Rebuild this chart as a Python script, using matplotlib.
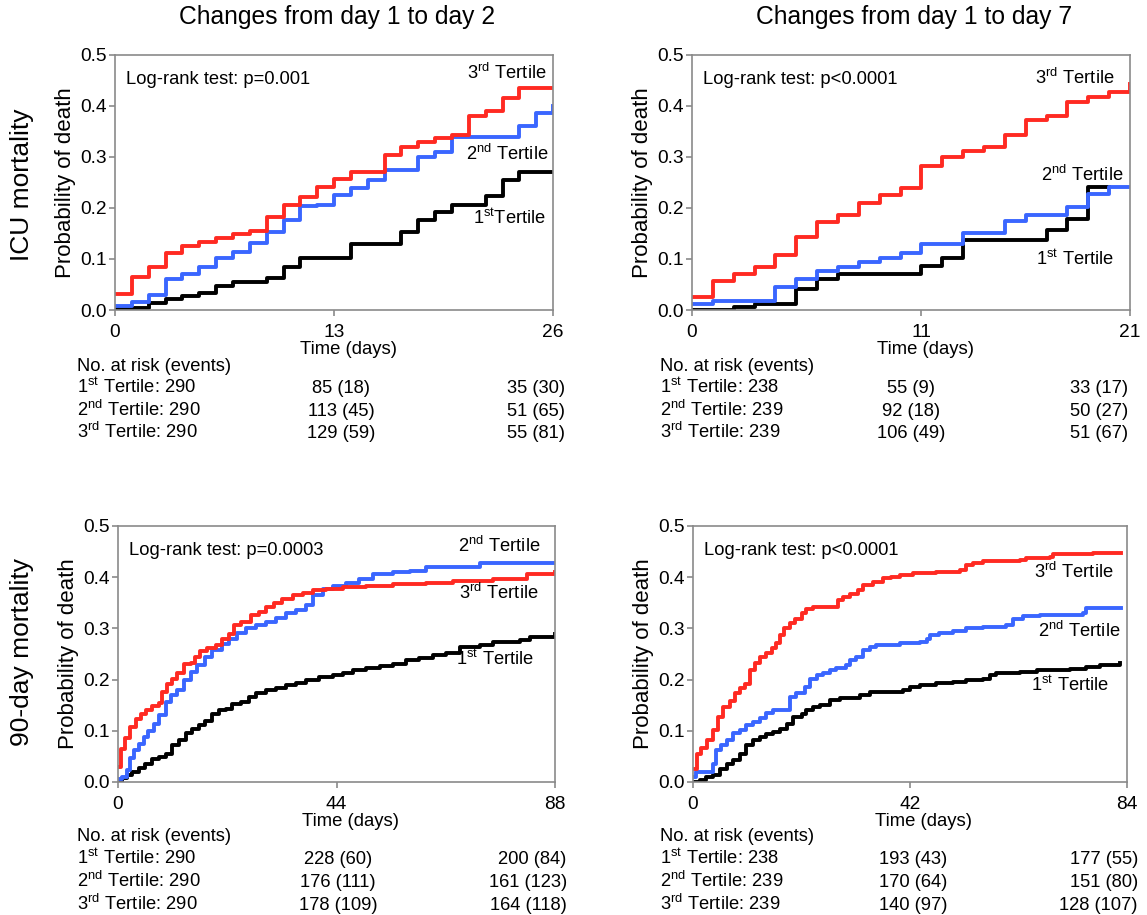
import matplotlib.pyplot as plt
from matplotlib.ticker import FormatStrFormatter

plt.rcParams['font.family'] = ['Liberation Sans', 'DejaVu Sans']
plt.rcParams['mathtext.fontset'] = 'custom'
plt.rcParams['mathtext.rm'] = 'Liberation Sans'
plt.rcParams['mathtext.default'] = 'regular'

RED = '#ff2a22'
BLUE = '#3a66ff'
BLACK = '#000000'
GREY = '#8a8a8a'

# ---- ICU mortality, changes day 1 -> day 2 (time in days, probability of death)
icu2_t1_t = [0, 1, 2, 3, 4, 5, 6, 7, 9, 10, 11, 14, 17, 18, 19, 20, 22, 23, 24, 26]
icu2_t1_p = [0.001, 0.003, 0.013, 0.021, 0.027, 0.033, 0.047, 0.054, 0.062, 0.085, 0.101,
             0.129, 0.152, 0.176, 0.193, 0.206, 0.224, 0.255, 0.271, 0.271]
icu2_t2_t = [0, 1, 2, 3, 4, 5, 6, 7, 8, 9, 10, 11, 12, 13, 14, 15, 16, 18, 19, 20, 24, 25, 26]
icu2_t2_p = [0.008, 0.016, 0.029, 0.060, 0.070, 0.085, 0.101, 0.114, 0.131, 0.152, 0.176,
             0.203, 0.206, 0.225, 0.239, 0.255, 0.275, 0.300, 0.310, 0.339, 0.360, 0.387, 0.400]
icu2_t3_t = [0, 1, 2, 3, 4, 5, 6, 7, 8, 9, 10, 11, 12, 13, 14, 16, 17, 18, 19, 20, 21, 22,
             23, 24, 26]
icu2_t3_p = [0.031, 0.065, 0.085, 0.111, 0.125, 0.134, 0.142, 0.149, 0.154, 0.183, 0.206,
             0.222, 0.242, 0.256, 0.270, 0.304, 0.320, 0.330, 0.337, 0.344, 0.380, 0.390,
             0.415, 0.435, 0.435]

# ---- ICU mortality, changes day 1 -> day 7
icu7_t1_t = [0, 2, 3, 5, 6, 7, 11, 12, 13, 17, 18, 19, 20]
icu7_t1_p = [0.0, 0.005, 0.012, 0.041, 0.061, 0.071, 0.087, 0.102, 0.138, 0.157, 0.178,
             0.241, 0.241]
icu7_t2_t = [0, 1, 4, 5, 6, 7, 8, 9, 10, 11, 13, 15, 16, 18, 19, 20, 21]
icu7_t2_p = [0.012, 0.018, 0.045, 0.061, 0.077, 0.085, 0.094, 0.102, 0.112, 0.130, 0.151,
             0.174, 0.187, 0.202, 0.228, 0.241, 0.241]
icu7_t3_t = [0, 1, 2, 3, 4, 5, 6, 7, 8, 9, 10, 11, 12, 13, 14, 15, 16, 17, 18, 19, 20, 21]
icu7_t3_p = [0.025, 0.056, 0.071, 0.085, 0.108, 0.143, 0.172, 0.187, 0.209, 0.225, 0.239,
             0.282, 0.300, 0.311, 0.320, 0.343, 0.372, 0.380, 0.408, 0.418, 0.428, 0.444]

# ---- 90-day mortality, changes day 1 -> day 2
d90_2_t1_t = [0, 0.8, 1.8, 2.8, 4.2, 5.5, 6.9, 8.2, 9.6, 10.9, 12.3, 13.6, 14.9, 16.3, 17.6,
              19.0, 20.3, 21.7, 23.0, 24.7, 26.4, 27.7, 29.8, 31.8, 33.8, 35.8, 37.8, 40.5,
              43.2, 45.3, 47.3, 50.0, 52.7, 55.4, 58.0, 60.7, 63.4, 66.1, 68.8, 72.9, 75.6,
              80.9, 83.0, 88]
d90_2_t1_p = [0.0, 0.007, 0.013, 0.020, 0.028, 0.036, 0.044, 0.048, 0.055, 0.072, 0.081,
              0.096, 0.104, 0.111, 0.120, 0.132, 0.140, 0.143, 0.153, 0.156, 0.166, 0.174,
              0.179, 0.183, 0.189, 0.194, 0.200, 0.205, 0.209, 0.213, 0.218, 0.222, 0.226,
              0.230, 0.238, 0.243, 0.248, 0.252, 0.264, 0.267, 0.274, 0.277, 0.284, 0.289]
d90_2_t2_t = [0, 0.8, 1.8, 2.5, 3.2, 4.2, 5.2, 6.1, 7.2, 8.2, 9.6, 10.6, 11.9, 13.3, 14.6,
              16.0, 17.6, 19.0, 21.0, 22.4, 24.0, 25.7, 27.7, 29.8, 31.8, 33.8, 35.8, 37.8,
              39.2, 41.2, 43.2, 45.9, 48.6, 51.3, 55.4, 58.7, 62.1, 67.5, 72.9, 88]
d90_2_t2_p = [0.005, 0.010, 0.023, 0.046, 0.062, 0.075, 0.088, 0.100, 0.114, 0.130, 0.156,
              0.170, 0.180, 0.200, 0.215, 0.228, 0.244, 0.258, 0.270, 0.280, 0.290, 0.300,
              0.306, 0.313, 0.321, 0.329, 0.336, 0.345, 0.365, 0.376, 0.383, 0.389, 0.396,
              0.407, 0.411, 0.412, 0.419, 0.420, 0.427, 0.428]
d90_2_t3_t = [0, 0.5, 1.5, 2.5, 3.6, 4.7, 5.7, 6.9, 8.2, 8.9, 9.9, 10.9, 11.9, 13.3, 14.6,
              15.6, 16.6, 18.0, 19.7, 21.0, 22.4, 23.4, 24.7, 26.7, 28.4, 29.8, 31.4, 33.1,
              35.2, 37.2, 39.2, 41.9, 45.3, 50.0, 55.4, 62.1, 67.5, 75.6, 82.3, 88]
d90_2_t3_p = [0.030, 0.065, 0.085, 0.108, 0.122, 0.132, 0.140, 0.148, 0.155, 0.176, 0.192,
              0.202, 0.212, 0.230, 0.233, 0.245, 0.256, 0.261, 0.267, 0.280, 0.289, 0.306,
              0.313, 0.326, 0.332, 0.342, 0.350, 0.358, 0.365, 0.370, 0.375, 0.377, 0.380,
              0.383, 0.387, 0.389, 0.393, 0.397, 0.406, 0.410]

# ---- 90-day mortality, changes day 1 -> day 7
d90_7_t1_t = [0, 1.3, 2.6, 3.9, 5.2, 6.5, 7.7, 9.0, 10.3, 11.6, 12.9, 14.2, 15.5, 16.8,
              18.1, 19.4, 21.0, 21.9, 23.2, 24.5, 26.5, 28.4, 32.3, 34.2, 40.6, 41.9, 43.9,
              47.1, 50.3, 52.9, 56.1, 57.4, 58.7, 60.6, 63.2, 66.5, 72.9, 76.1, 78.7, 82.6]
d90_7_t1_p = [0.0, 0.003, 0.010, 0.013, 0.026, 0.036, 0.042, 0.055, 0.072, 0.081, 0.088,
              0.093, 0.098, 0.104, 0.114, 0.127, 0.132, 0.140, 0.147, 0.150, 0.160, 0.163,
              0.170, 0.176, 0.179, 0.186, 0.189, 0.194, 0.196, 0.199, 0.202, 0.209, 0.212,
              0.213, 0.215, 0.218, 0.220, 0.225, 0.228, 0.233]
d90_7_t2_t = [0, 0.6, 3.9, 4.5, 5.5, 6.5, 7.7, 9.0, 10.3, 11.6, 12.9, 14.2, 15.5, 18.7,
              20.0, 21.6, 22.6, 23.9, 25.2, 26.5, 27.7, 29.7, 30.3, 31.6, 32.9, 34.2, 35.5,
              40.0, 43.9, 45.2, 45.8, 47.7, 50.3, 52.9, 56.1, 60.6, 61.9, 63.9, 67.1, 75.5,
              76.1, 82.9]
d90_7_t2_p = [0.010, 0.020, 0.036, 0.062, 0.072, 0.081, 0.095, 0.101, 0.111, 0.117, 0.124,
              0.134, 0.141, 0.166, 0.173, 0.186, 0.202, 0.209, 0.212, 0.218, 0.222, 0.228,
              0.238, 0.244, 0.257, 0.264, 0.267, 0.272, 0.274, 0.280, 0.287, 0.291, 0.295,
              0.300, 0.303, 0.306, 0.319, 0.324, 0.326, 0.329, 0.339, 0.339]
d90_7_t3_t = [0, 0.8, 1.6, 2.7, 3.9, 4.8, 5.8, 7.1, 8.1, 9.0, 10.0, 11.0, 11.9, 12.9, 14.2,
              15.2, 16.1, 16.8, 17.7, 18.7, 19.7, 21.0, 21.9, 23.2, 28.1, 29.0, 30.3, 31.9,
              32.9, 34.8, 36.8, 38.4, 40.0, 42.6, 47.1, 51.6, 52.9, 54.2, 56.1, 63.2, 64.5,
              69.0, 69.7, 77.4, 82.9]
d90_7_t3_p = [0.026, 0.055, 0.067, 0.081, 0.101, 0.127, 0.147, 0.158, 0.173, 0.183, 0.191,
              0.218, 0.233, 0.244, 0.251, 0.261, 0.271, 0.287, 0.300, 0.310, 0.319, 0.329,
              0.337, 0.342, 0.355, 0.362, 0.368, 0.375, 0.385, 0.391, 0.398, 0.401, 0.405,
              0.409, 0.411, 0.414, 0.424, 0.428, 0.432, 0.434, 0.437, 0.440, 0.445, 0.447,
              0.447]

# ---- risk tables
tertile_names = [r'1$^{st}$ Tertile:', r'2$^{nd}$ Tertile:', r'3$^{rd}$ Tertile:']
icu2_risk = [['290', '85 (18)', '35 (30)'],
             ['290', '113 (45)', '51 (65)'],
             ['290', '129 (59)', '55 (81)']]
icu7_risk = [['238', '55 (9)', '33 (17)'],
             ['239', '92 (18)', '50 (27)'],
             ['239', '106 (49)', '51 (67)']]
d90_2_risk = [['290', '228 (60)', '200 (84)'],
              ['290', '176 (111)', '161 (123)'],
              ['290', '178 (109)', '164 (118)']]
d90_7_risk = [['238', '193 (43)', '177 (55)'],
              ['239', '170 (64)', '151 (80)'],
              ['239', '140 (97)', '128 (107)']]

fig = plt.figure(figsize=(11.47, 9.15), dpi=100)
TS = 13.2  # table / annotation font size


def make_panel(rect, xmax, xmid, curves, pval, labels, risk, cols, table_y):
    ax = fig.add_axes(rect)
    for t, p, c in curves:
        ax.step(t, p, where='post', color=c, lw=2.8)
    ax.set_xlim(0, xmax)
    ax.set_ylim(0, 0.5)
    ax.set_xticks([0, xmid, xmax])
    ax.set_yticks([0, 0.1, 0.2, 0.3, 0.4, 0.5])
    ax.yaxis.set_major_formatter(FormatStrFormatter('%.1f'))
    for s in ax.spines.values():
        s.set_color(GREY)
        s.set_linewidth(1.2)
    ax.tick_params(colors=GREY, labelcolor='black', labelsize=13.8, length=4,
                   width=1.2, pad=2)
    ax.tick_params(axis='x', pad=6)
    ax.set_xlabel('Time (days)', fontsize=13.3, labelpad=0, x=0.532)
    ax.set_ylabel('Probability of death', fontsize=16, labelpad=3)
    ax.text(0.025, 0.905, 'Log-rank test: ' + pval, transform=ax.transAxes,
            fontsize=TS, va='center', ha='left')
    for txt, x, y in labels:
        ax.text(x, y, txt, transform=ax.transAxes, fontsize=TS, ha='right',
                va='center')
    # risk table
    left_x, mid_x, right_x = cols
    y0, dy = table_y
    ax.text(left_x, y0, 'No. at risk (events)', transform=ax.transAxes,
            fontsize=TS, ha='left', va='baseline')
    for i, row in enumerate(risk):
        y = y0 - dy * (i + 1)
        ax.text(left_x, y, tertile_names[i] + ' ' + row[0], transform=ax.transAxes,
                fontsize=TS, ha='left', va='baseline')
        ax.text(mid_x, y, row[1], transform=ax.transAxes, fontsize=TS,
                ha='center', va='baseline')
        ax.text(right_x, y, row[2], transform=ax.transAxes, fontsize=TS,
                ha='right', va='baseline')
    return ax


make_panel([0.1003, 0.6612, 0.3819, 0.2787], 26, 13,
           [(icu2_t1_t, icu2_t1_p, BLACK), (icu2_t2_t, icu2_t2_p, BLUE),
            (icu2_t3_t, icu2_t3_p, RED)],
           'p=0.001',
           [(r'3$^{rd}$ Tertile', 0.985, 0.93), (r'2$^{nd}$ Tertile', 0.99, 0.61),
            (r'1$^{st}$Tertile', 0.985, 0.36)],
           icu2_risk, (-0.087, 0.516, 1.027), (-0.239, 0.088))

make_panel([0.6033, 0.6612, 0.3819, 0.2787], 21, 11,
           [(icu7_t1_t, icu7_t1_p, BLACK), (icu7_t2_t, icu7_t2_p, BLUE),
            (icu7_t3_t, icu7_t3_p, RED)],
           'p<0.0001',
           [(r'3$^{rd}$ Tertile', 0.965, 0.91), (r'2$^{nd}$ Tertile', 0.985, 0.53),
            (r'1$^{st}$ Tertile', 0.965, 0.2)],
           icu7_risk, (-0.073, 0.5, 0.995), (-0.239, 0.088))

make_panel([0.1029, 0.1454, 0.381, 0.2798], 88, 44,
           [(d90_2_t1_t, d90_2_t1_p, BLACK), (d90_2_t2_t, d90_2_t2_p, BLUE),
            (d90_2_t3_t, d90_2_t3_p, RED)],
           'p=0.0003',
           [(r'2$^{nd}$ Tertile', 0.967, 0.92), (r'3$^{rd}$ Tertile', 0.962, 0.74),
            (r'1$^{st}$ Tertile', 0.953, 0.48)],
           d90_2_risk, (-0.094, 0.503, 1.027), (-0.232, 0.09))

make_panel([0.6042, 0.1454, 0.3784, 0.2798], 84, 42,
           [(d90_7_t1_t, d90_7_t1_p, BLACK), (d90_7_t2_t, d90_7_t2_p, BLUE),
            (d90_7_t3_t, d90_7_t3_p, RED)],
           'p<0.0001',
           [(r'3$^{rd}$ Tertile', 0.97, 0.82), (r'2$^{nd}$ Tertile', 0.985, 0.59),
            (r'1$^{st}$ Tertile', 0.96, 0.38)],
           d90_7_risk, (-0.076, 0.507, 1.025), (-0.232, 0.09))

fig.text(0.294, 0.981, 'Changes from day 1 to day 2', fontsize=17.7, ha='center',
         va='center')
fig.text(0.797, 0.981, 'Changes from day 1 to day 7', fontsize=17.7, ha='center',
         va='center')
fig.text(0.019, 0.798, 'ICU mortality', fontsize=19, rotation=90, ha='center',
         va='center')
fig.text(0.019, 0.287, '90-day mortality', fontsize=19, rotation=90, ha='center',
         va='center')

fig.savefig('out.png', dpi=100)
